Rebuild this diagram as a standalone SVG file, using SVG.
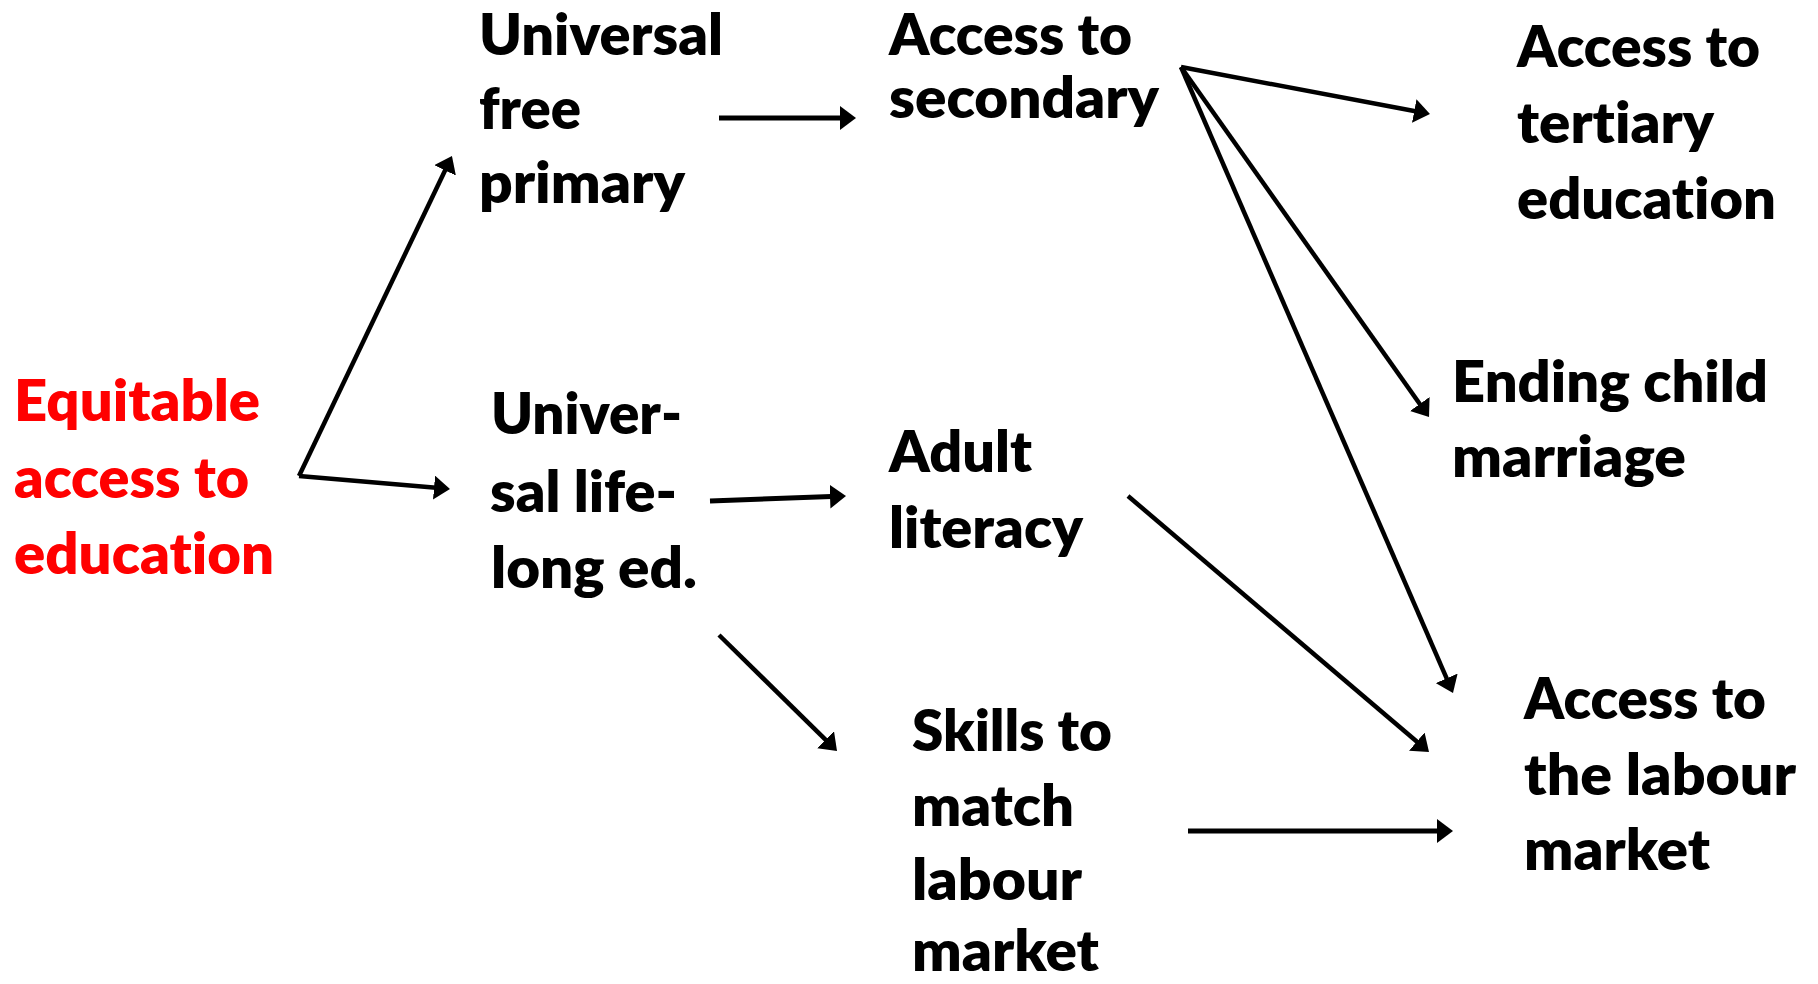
<svg xmlns="http://www.w3.org/2000/svg" width="1818" height="984" viewBox="0 0 1818 984">
<style>
text{font-family:Lato,"Open Sans","Liberation Sans",sans-serif;font-weight:800;font-size:56px;fill:#000;font-variant-ligatures:none}
.red text{fill:#ff0000}
.c line{stroke:#000;stroke-width:4.5;marker-end:url(#ah)}
</style>
<defs>
<marker id="ah" markerUnits="userSpaceOnUse" markerWidth="16" markerHeight="24" viewBox="0 0 16 24" refX="8" refY="12" orient="auto">
<path d="M0,0 L16,12 L0,24 z" fill="#000"/>
</marker>
</defs>
<rect width="1818" height="984" fill="#fff"/>
<g id="n-equitable" class="red">
<text x="14" y="421" textLength="246" lengthAdjust="spacingAndGlyphs">Equitable</text>
<text x="14" y="498" textLength="235" lengthAdjust="spacingAndGlyphs">access to</text>
<text x="14" y="574" textLength="260" lengthAdjust="spacingAndGlyphs">education</text>
</g>
<g id="n-primary">
<text x="479" y="55" textLength="244" lengthAdjust="spacingAndGlyphs">Universal</text>
<text x="479" y="129" textLength="102" lengthAdjust="spacingAndGlyphs">free</text>
<text x="479" y="203" textLength="206" lengthAdjust="spacingAndGlyphs">primary</text>
</g>
<g id="n-lifelong">
<text x="491" y="434" textLength="191" lengthAdjust="spacingAndGlyphs">Univer-</text>
<text x="490" y="512" textLength="187" lengthAdjust="spacingAndGlyphs">sal life-</text>
<text x="491" y="588" textLength="206" lengthAdjust="spacingAndGlyphs">long ed.</text>
</g>
<g id="n-secondary">
<text x="889" y="55" textLength="243" lengthAdjust="spacingAndGlyphs">Access to</text>
<text x="889" y="118" textLength="270" lengthAdjust="spacingAndGlyphs">secondary</text>
</g>
<g id="n-adult">
<text x="889" y="472" textLength="143" lengthAdjust="spacingAndGlyphs">Adult</text>
<text x="889" y="548" textLength="194" lengthAdjust="spacingAndGlyphs">literacy</text>
</g>
<g id="n-skills">
<text x="912" y="751" textLength="200" lengthAdjust="spacingAndGlyphs">Skills to</text>
<text x="912" y="826" textLength="162" lengthAdjust="spacingAndGlyphs">match</text>
<text x="912" y="900" textLength="170" lengthAdjust="spacingAndGlyphs">labour</text>
<text x="912" y="971" textLength="187" lengthAdjust="spacingAndGlyphs">market</text>
</g>
<g id="n-tertiary">
<text x="1517" y="67" textLength="243" lengthAdjust="spacingAndGlyphs">Access to</text>
<text x="1517" y="143" textLength="197" lengthAdjust="spacingAndGlyphs">tertiary</text>
<text x="1517" y="219" textLength="259" lengthAdjust="spacingAndGlyphs">education</text>
</g>
<g id="n-marriage">
<text x="1452" y="402" textLength="316" lengthAdjust="spacingAndGlyphs">Ending child</text>
<text x="1452" y="477" textLength="234" lengthAdjust="spacingAndGlyphs">marriage</text>
</g>
<g id="n-labour">
<text x="1524" y="719" textLength="242" lengthAdjust="spacingAndGlyphs">Access to</text>
<text x="1524" y="795" textLength="272" lengthAdjust="spacingAndGlyphs">the labour</text>
<text x="1524" y="870" textLength="186" lengthAdjust="spacingAndGlyphs">market</text>
</g>
<g id="connectors" class="c">
<line x1="299" y1="476" x2="448.5" y2="163.2"/>
<line x1="299" y1="476" x2="442" y2="488.3"/>
<line x1="719" y1="118" x2="848" y2="118" style="stroke-width:5"/>
<line x1="710" y1="501" x2="838" y2="496.3" style="stroke-width:5"/>
<line x1="719" y1="635" x2="831.3" y2="745.4"/>
<line x1="1181" y1="67" x2="1422.1" y2="112.5"/>
<line x1="1181" y1="67" x2="1424.4" y2="410.5"/>
<line x1="1181" y1="67" x2="1449.8" y2="685.7"/>
<line x1="1128" y1="496" x2="1422.9" y2="746.8"/>
<line x1="1188" y1="831" x2="1445" y2="831" style="stroke-width:5"/>
</g>
</svg>
